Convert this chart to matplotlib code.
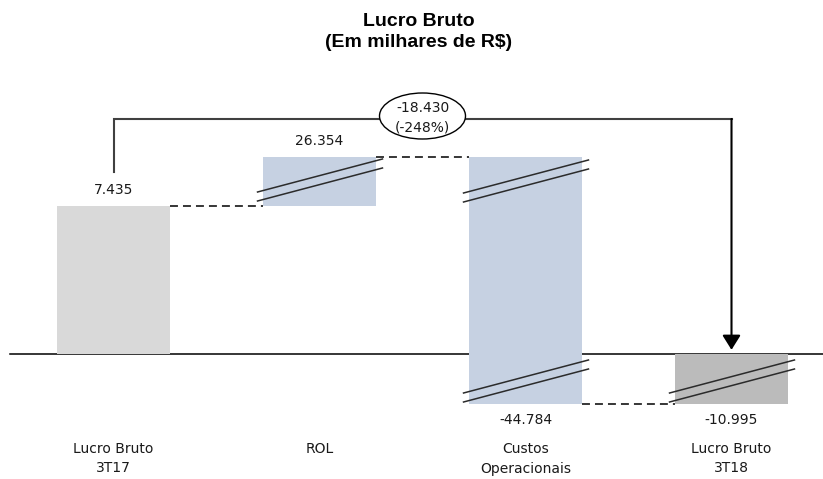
import numpy as np
import matplotlib.pyplot as plt
import matplotlib.transforms as mtransforms
from matplotlib.patches import Ellipse
from matplotlib.lines import Line2D

categories = ['Lucro Bruto\n3T17', 'ROL', 'Custos\nOperacionais', 'Lucro Bruto\n3T18']
values = [7435, 26354, -44784, -10995]
value_labels = ['7.435', '26.354', '-44.784', '-10.995']
variation_label = '-18.430\n(-248%)'

W, H = 823, 479
fig = plt.figure(figsize=(W / 100, H / 100), dpi=100)
ax = fig.add_axes([0, 0, 1, 1])
ax.axis('off')

# waterfall levels
cum = np.cumsum(values[:3])
bottoms = [0, cum[0], cum[1], 0]
heights = [values[0], values[1], values[2], values[3]]
x = np.arange(len(categories))
w = 0.553

# broken (non proportional) y axis like the original: piecewise linear scale
lv = [-100000, values[3], 0, cum[0], cum[1], 200000]
px = [-139, -50, 0, 148, 197, 363]
fwd = lambda v: np.interp(v, lv, px)
inv = lambda p: np.interp(p, px, lv)
ax.set_yscale('function', functions=(fwd, inv))
ax.set_xlim(-113.5 / 206, (W - 113.5) / 206)
ax.set_ylim(float(inv(-(H - 354))), float(inv(354)))

colors = ['#d9d9d9', '#c6d1e2', '#c6d1e2', '#bbbbbb']
ax.bar(x, heights, w, bottom=bottoms, color=colors, zorder=2)
ax.axhline(0, xmin=10 / W, xmax=1, color='black', lw=1.1, zorder=1)

# dashed connectors
for i, lvl in enumerate(cum):
    ax.plot([x[i] + w / 2, x[i + 1] - w / 2], [lvl, lvl], color='black',
            lw=1.1, dashes=(5.2, 3.3), zorder=3)

# break marks (double slash) in pixel units
ident = mtransforms.IdentityTransform()


def draw_break(xc, lvl, dy):
    x0, y0 = ax.transData.transform((xc - w / 2, lvl))
    x1, _ = ax.transData.transform((xc + w / 2, lvl))
    y0 += dy
    for off in (0, 9):
        ax.add_line(Line2D([x0 - 5, x1 + 6], [y0 + off, y0 + off + 33],
                           transform=ident, color='#2b2b2b', lw=1.1, zorder=4))


draw_break(1, cum[0], 5)
draw_break(2, cum[1], -45)
draw_break(2, cum[2], 2)
draw_break(3, values[3], 2)

# value labels
for i in range(len(values)):
    top = bottoms[i] + heights[i]
    lvl = max(bottoms[i], top) if heights[i] > 0 else min(bottoms[i], top)
    off = 16 if heights[i] > 0 else -16
    ax.annotate(value_labels[i], (x[i], lvl), xytext=(0, off),
                textcoords='offset pixels', ha='center', va='center',
                fontsize=10, color='#1a1a1a')

# category labels
blend = mtransforms.blended_transform_factory(ax.transData, ax.transAxes)
for i, c in enumerate(categories):
    ax.text(x[i], 1 - 442 / H, c, transform=blend, ha='center', va='top',
            fontsize=10, linespacing=1.5, color='#1a1a1a')

# bracket with arrow
yb = 1 - 119 / H
ax.plot([0, 0, 3], [1 - 172 / H, yb, yb], transform=blend, color='#404040',
        lw=1.5, zorder=3, solid_joinstyle='miter')
ax.annotate('', xy=(3, 0), xytext=(3, yb), textcoords=blend,
            arrowprops=dict(arrowstyle='-|>,head_length=0.4,head_width=0.25',
                            color='black', lw=1.5, mutation_scale=22,
                            shrinkA=0, shrinkB=3), zorder=3)

cx, cy = blend.transform((1.5, 1 - 116 / H))
ax.add_patch(Ellipse((cx, cy), 86, 46, transform=ident, fc='white',
                     ec='black', lw=1.0, zorder=5))
ax.text(cx, cy - 2, variation_label, transform=ident, ha='center', va='center',
        fontsize=10, linespacing=1.5, zorder=6, color='#1a1a1a')

fig.text(419 / W, 1 - 32 / H, 'Lucro Bruto\n(Em milhares de R\\$)', ha='center',
         va='center', fontsize=14, fontweight='bold', family='Liberation Sans',
         linespacing=1.35)

fig.savefig('out.png', dpi=100)
